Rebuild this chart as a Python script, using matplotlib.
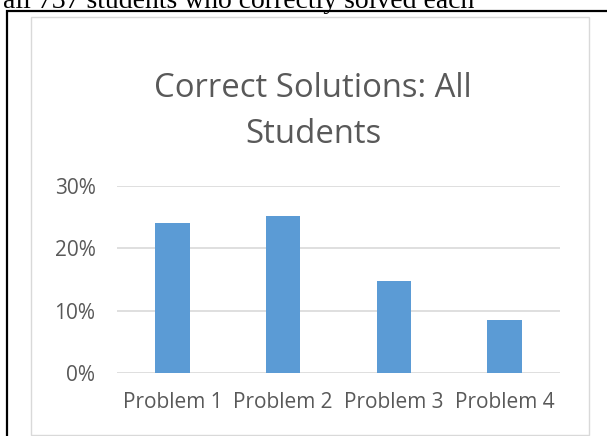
import numpy as np
import matplotlib
matplotlib.use("Agg")
from matplotlib import pyplot as plt
from matplotlib.patches import Rectangle
from matplotlib.ticker import PercentFormatter

# data
problems = ["Problem 1", "Problem 2", "Problem 3", "Problem 4"]
correct = [24.0, 25.2, 14.8, 8.5]
yticks = [0, 10, 20, 30]

W, H = 607, 436
fig = plt.figure(figsize=(W/100.0, H/100.0), dpi=100)
fig.patch.set_facecolor("white")

def px(x, y):
    return x/W, 1 - y/H

# cut-off line of document text above the chart
fig.text(3/W, 1 - 8/H, "all 737 students who correctly solved each",
         family="Liberation Serif", fontsize=20, color="black", va="baseline", ha="left")

# black frame of the document box
fig.patches.append(Rectangle(px(7, 470), (W + 20)/W, (470 - 11)/H, transform=fig.transFigure,
                             fill=False, edgecolor="black", lw=1.6))
# grey chart border
fig.patches.append(Rectangle(px(31, 435), (589 - 31)/W, (435 - 17)/H, transform=fig.transFigure,
                             fill=False, edgecolor="#d9d9d9", lw=1.0))

ax = fig.add_axes([117/W, 1 - 373/H, (560 - 117)/W, (373 - 186)/H])
x = np.arange(len(problems))
ax.bar(x, correct, width=0.31, color="#5b9bd5", zorder=3)
ax.set_xlim(-0.5, 3.5)
ax.set_ylim(0, 30)
ax.set_yticks(yticks)
ax.yaxis.set_major_formatter(PercentFormatter(decimals=0))
ax.set_xticks(x)
ax.set_xticklabels(problems)
ax.grid(axis="y", color="#d9d9d9", lw=1.2, zorder=0)
for s in ax.spines.values():
    s.set_visible(False)
ax.tick_params(length=0, colors="#595959", labelsize=15)
ax.tick_params(axis="y", pad=15.5)
ax.tick_params(axis="x", pad=14)
for lab in ax.get_xticklabels() + ax.get_yticklabels():
    lab.set_family("Open Sans")

fig.text(313/W, 1 - 97/H, "Correct Solutions: All", family="Open Sans", fontsize=23.7,
         color="#595959", ha="center", va="baseline")
fig.text(313/W, 1 - 143/H, "Students", family="Open Sans", fontsize=23.7,
         color="#595959", ha="center", va="baseline")

fig.savefig("out.png", dpi=100)
